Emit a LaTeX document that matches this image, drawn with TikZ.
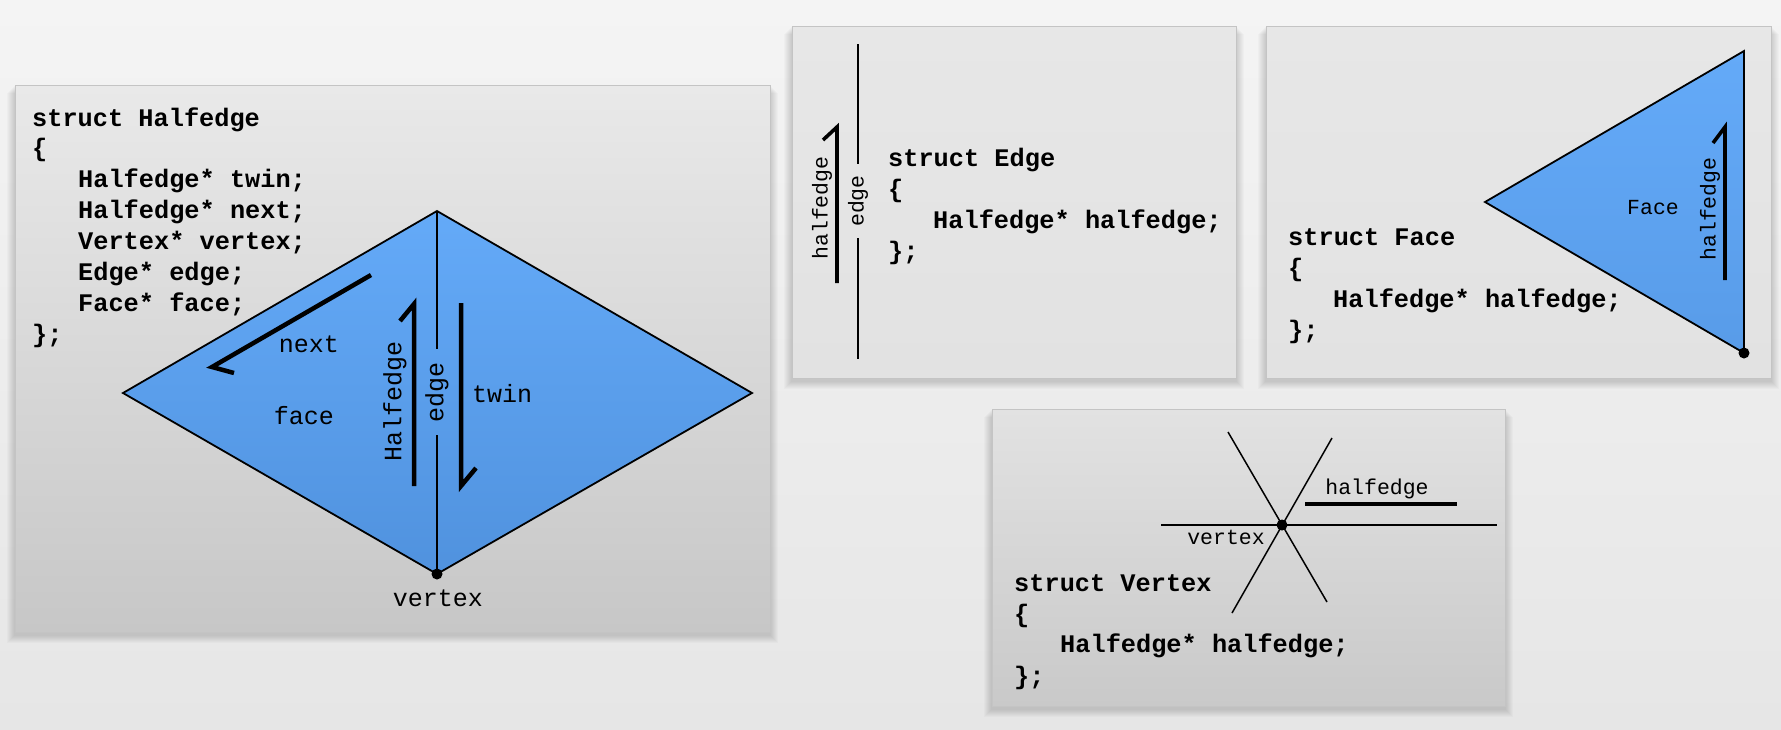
\documentclass[tikz,border=0pt]{standalone}
\usepackage{fontspec}
\newfontfamily\lmono{Liberation Mono}
\definecolor{bgtop}{HTML}{F4F4F4}
\definecolor{bgbot}{HTML}{E6E6E6}
\definecolor{ptop}{HTML}{E9E9E9}
\definecolor{pbot}{HTML}{C7C7C7}
\definecolor{pflat}{HTML}{E7E7E7}
\definecolor{pflatb}{HTML}{E2E2E2}
\definecolor{pvtop}{HTML}{E2E2E2}
\definecolor{pvbot}{HTML}{C9C9C9}
\definecolor{pborder}{HTML}{C4C4C4}
\definecolor{bluetop}{RGB}{100,170,248}
\definecolor{bluebot}{RGB}{80,146,222}
\begin{document}
\begin{tikzpicture}[x=1pt,y=-1pt,
  code/.style={font=\lmono\bfseries\fontsize{25.3}{30}\selectfont, anchor=base west, inner sep=0pt, text=black},
  biglbl/.style={font=\lmono\fontsize{25}{30}\selectfont, inner sep=0pt, text=black},
  smalllbl/.style={font=\lmono\fontsize{21.5}{26}\selectfont, inner sep=0pt, text=black},
  hearrow/.style={line width=4.5pt, line join=miter, line cap=butt},
  hearrowsmall/.style={line width=3.6pt, line join=miter, line cap=butt},
  thinedge/.style={line width=1.5pt},
  outline/.style={line width=1.8pt, line join=miter},
  panel/.style={draw=pborder, line width=1pt},
  dot/.style={circle, fill=black, inner sep=0pt, minimum size=11pt}]
\useasboundingbox (0,0) rectangle (1781,729);
\fill[top color=bgtop,bottom color=bgbot] (0,0) rectangle (1781,729);

% soft shadows
\foreach \s in {1,...,8} {
  \fill[black,opacity=0.02] (15-\s,85+\s) rectangle (770+\s,632+\s+3);
  \fill[black,opacity=0.02] (792-\s,26+\s) rectangle (1236+\s,378+\s+3);
  \fill[black,opacity=0.02] (1266-\s,26+\s) rectangle (1771+\s,378+\s+3);
  \fill[black,opacity=0.02] (992-\s,409+\s) rectangle (1505+\s,706+\s+3);
}

% panels
\filldraw[panel, top color=ptop, bottom color=pbot] (15,85) rectangle (770,632);
\filldraw[panel, top color=pflat, bottom color=pflatb] (792,26) rectangle (1236,378);
\filldraw[panel, top color=pflat, bottom color=pflatb] (1266,26) rectangle (1771,378);
\filldraw[panel, top color=pvtop, bottom color=pvbot] (992,409) rectangle (1505,706);

% ---------- Panel 1: Halfedge ----------
\coordinate (T) at (437,211);
\coordinate (L) at (123,393);
\coordinate (R) at (752,393);
\coordinate (B) at (437,574);
\fill[top color=bluetop,bottom color=bluebot] (T) -- (R) -- (B) -- (L) -- cycle;
\draw[outline] (T) -- (R) -- (B) -- (L) -- cycle;
\node[biglbl, rotate=90, inner xsep=13pt, inner ysep=2pt] (edgeA) at (437,392) {edge};
\draw[thinedge] (T) -- (edgeA.east);
\draw[thinedge] (edgeA.west) -- (B);

\coordinate (h1a) at (414,486);
\coordinate (h1b) at (414,304);
\coordinate (h1c) at (400,321);
\draw[hearrow] (h1a) -- (h1b) -- (h1c);
\coordinate (t1a) at (461,303);
\coordinate (t1b) at (461,486);
\coordinate (t1c) at (476,468);
\draw[hearrow] (t1a) -- (t1b) -- (t1c);
\coordinate (n1a) at (371,275);
\coordinate (n1b) at (212,367);
\coordinate (n1c) at (234,373);
\draw[hearrow] (n1a) -- (n1b) -- (n1c);

\node[biglbl] (nextL) at (309,344) {next};
\node[biglbl] (faceL) at (304,416) {face};
\node[biglbl, rotate=90] (halfL) at (395,401) {Halfedge};
\node[biglbl] (twinL) at (502,394) {twin};
\node[dot] (vB) at (B) {};
\node[biglbl] (vertexL) at (438,598) {vertex};

\node[code] (c1a) at (32,126) {struct Halfedge};
\node[code] (c1b) at (32,156.9) {\{};
\node[code] (c1c) at (78,187.7) {Halfedge* twin;};
\node[code] (c1d) at (78,218.6) {Halfedge* next;};
\node[code] (c1e) at (78,249.4) {Vertex* vertex;};
\node[code] (c1f) at (78,280.3) {Edge* edge;};
\node[code] (c1g) at (78,311.2) {Face* face;};
\node[code] (c1h) at (32,342) {\};};

% ---------- Panel 2: Edge ----------
\coordinate (e2t) at (858,44);
\coordinate (e2b) at (858,359);
\node[smalllbl, rotate=90, inner xsep=11pt, inner ysep=2pt] (edgeB) at (858,201) {edge};
\draw[thinedge] (e2t) -- (edgeB.east);
\draw[thinedge] (edgeB.west) -- (e2b);
\node[smalllbl, rotate=90] (halfB) at (822,208) {halfedge};
\coordinate (h2a) at (837,283);
\coordinate (h2b) at (837,127);
\coordinate (h2c) at (823,140);
\draw[hearrowsmall] (h2a) -- (h2b) -- (h2c);

\node[code] (c2a) at (888,166) {struct Edge};
\node[code] (c2b) at (888,197) {\{};
\node[code] (c2c) at (933,228) {Halfedge* halfedge;};
\node[code] (c2d) at (888,259) {\};};

% ---------- Panel 3: Face ----------
\coordinate (fT) at (1744,51);
\coordinate (fL) at (1485,202);
\coordinate (fB) at (1744,353);
\fill[top color=bluetop,bottom color=bluebot!60!bluetop] (fT) -- (fB) -- (fL) -- cycle;
\draw[outline] (fT) -- (fB) -- (fL) -- cycle;
\coordinate (h3a) at (1725,280);
\coordinate (h3b) at (1725,127);
\coordinate (h3c) at (1713,143);
\draw[hearrowsmall] (h3a) -- (h3b) -- (h3c);
\node[smalllbl, rotate=90] (halfC) at (1710,209) {halfedge};
\node[smalllbl] (faceC) at (1653,208) {Face};
\node[dot] (vC) at (fB) {};

\node[code] (c3a) at (1288,245) {struct Face};
\node[code] (c3b) at (1288,276) {\{};
\node[code] (c3c) at (1333,307) {Halfedge* halfedge;};
\node[code] (c3d) at (1288,338) {\};};

% ---------- Panel 4: Vertex ----------
\coordinate (V) at (1282,525);
\coordinate (s1a) at (1161,525);
\coordinate (s1b) at (1497,525);
\coordinate (s2a) at (1228,432);
\coordinate (s2b) at (1327,602);
\coordinate (s3a) at (1332,438);
\coordinate (s3b) at (1232,613);
\draw[thinedge] (s1a) -- (s1b);
\draw[thinedge] (s2a) -- (s2b);
\draw[thinedge] (s3a) -- (s3b);
\coordinate (h4a) at (1305,504);
\coordinate (h4b) at (1457,504);
\draw[line width=4pt] (h4a) -- (h4b);
\node[dot] (vD) at (V) {};
\node[smalllbl] (halfD) at (1377,489) {halfedge};
\node[smalllbl] (vertexD) at (1226,537) {vertex};

\node[code] (c4a) at (1014,591) {struct Vertex};
\node[code] (c4b) at (1014,622) {\{};
\node[code] (c4c) at (1060,652) {Halfedge* halfedge;};
\node[code] (c4d) at (1014,684) {\};};
\end{tikzpicture}
\end{document}
